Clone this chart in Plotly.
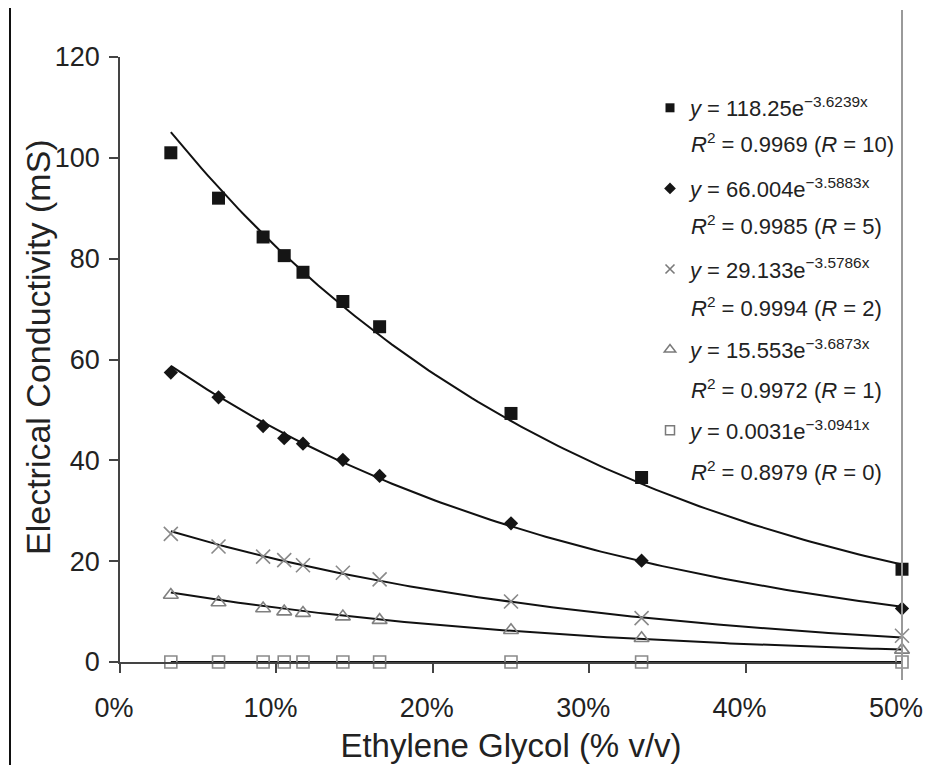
import numpy as np
import plotly.graph_objects as go

# ---------------- data ----------------
eg_fraction = [0.0325, 0.063, 0.0915, 0.105, 0.117, 0.1425, 0.166, 0.25, 0.3335, 0.50]

ec_R10 = [101.0, 92.0, 84.3, 80.6, 77.3, 71.5, 66.5, 49.3, 36.6, 18.4]
ec_R5 = [57.4, 52.5, 46.8, 44.4, 43.3, 40.1, 36.9, 27.5, 20.1, 10.6]
ec_R2 = [25.4, 22.9, 20.9, 20.2, 19.2, 17.7, 16.4, 12.0, 8.7, 5.2]
ec_R1 = [13.3, 11.8, 10.6, 10.0, 9.7, 9.0, 8.3, 6.3, 4.7, 2.4]
ec_R0 = [0.003, 0.003, 0.002, 0.002, 0.002, 0.002, 0.002, 0.001, 0.001, 0.001]

fit_a = [118.25, 66.004, 29.133, 15.553, 0.0031]
fit_b = [-3.6239, -3.5883, -3.5786, -3.6873, -3.0941]
fit_r2 = ["0.9969", "0.9985", "0.9994", "0.9972", "0.8979"]
fit_R = ["10", "5", "2", "1", "0"]
fit_a_txt = ["118.25", "66.004", "29.133", "15.553", "0.0031"]
fit_b_txt = ["3.6239", "3.5883", "3.5786", "3.6873", "3.0941"]

x_ticks = [0, 0.1, 0.2, 0.3, 0.4, 0.5]
y_ticks = [0, 20, 40, 60, 80, 100, 120]

FONT = "Liberation Sans"
series = [ec_R10, ec_R5, ec_R2, ec_R1, ec_R0]
styles = [
    dict(symbol="square", size=13, color="#151515", line=dict(width=0)),
    dict(symbol="diamond", size=11, color="#151515", line=dict(width=0)),
    dict(symbol="x-thin", size=14, color="#8a8a8a", line=dict(width=1.6, color="#8a8a8a")),
    dict(symbol="triangle-up-open", size=13, color="#808080", line=dict(width=1.6, color="#808080")),
    dict(symbol="square-open", size=12, color="#8a8a8a", line=dict(width=1.6, color="#8a8a8a")),
]
legend_styles = [
    dict(symbol="square", size=9, color="#151515", line=dict(width=0)),
    dict(symbol="diamond", size=9, color="#151515", line=dict(width=0)),
    dict(symbol="x-thin", size=9, color="#7a7a7a", line=dict(width=1.6, color="#7a7a7a")),
    dict(symbol="triangle-up-open", size=10, color="#7a7a7a", line=dict(width=1.5, color="#7a7a7a")),
    dict(symbol="square-open", size=9, color="#7a7a7a", line=dict(width=1.5, color="#7a7a7a")),
]

fig = go.Figure()

# trend lines (from the fitted equations shown on the chart)
xs = np.linspace(eg_fraction[0], eg_fraction[-1], 120)
for a, b in zip(fit_a, fit_b):
    fig.add_trace(go.Scatter(x=xs, y=a * np.exp(b * xs), mode="lines",
                             line=dict(color="#111111", width=2),
                             showlegend=False, hoverinfo="skip", cliponaxis=False))

# measured points
for ys, st in zip(series, styles):
    fig.add_trace(go.Scatter(x=eg_fraction, y=ys, mode="markers", marker=st,
                             showlegend=False, cliponaxis=False))

# legend entries
for i, st in enumerate(legend_styles):
    name = "<i>y</i> = %se<sup>\u2212%sx</sup>" % (fit_a_txt[i], fit_b_txt[i])
    fig.add_trace(go.Scatter(x=[None], y=[None], mode="markers", marker=st,
                             name=name, legendgroup="g%d" % i, showlegend=True))

# second line of each legend entry
annotations = []
for i in range(5):
    annotations.append(dict(
        xref="paper", yref="paper", x=(689 - 120) / 782, y=(662 - (143 + 82 * i)) / 605,
        xanchor="left", yanchor="middle", showarrow=False,
        text="<i>R</i><sup>2</sup> = %s (<i>R</i> = %s)" % (fit_r2[i], fit_R[i]),
        font=dict(family=FONT, size=22, color="#222222")))

# y-axis title
annotations.append(dict(
    xref="paper", yref="paper", x=(38 - 120) / 782, y=(662 - 347) / 605,
    xanchor="center", yanchor="middle", showarrow=False, textangle=-90,
    text="Electrical Conductivity (mS)",
    font=dict(family=FONT, size=34, color="#222222")))

axis_common = dict(
    showline=True, linecolor="#444444", linewidth=1.5,
    ticks="outside", ticklen=9, tickwidth=1.5, tickcolor="#444444",
    showgrid=False, zeroline=False, automargin=False,
    tickfont=dict(family=FONT, size=27, color="#222222"),
)

fig.update_layout(
    width=928, height=769,
    margin=dict(l=120, r=26, t=57, b=107),
    paper_bgcolor="white", plot_bgcolor="white",
    font=dict(family=FONT, color="#222222"),
    xaxis=dict(range=[0, 0.5], tickvals=x_ticks, tickformat=".0%",
               ticklabelstandoff=12, ticklabelshift=-6,
               title=dict(text="Ethylene Glycol (% v/v)", font=dict(family=FONT, size=33),
                          standoff=12),
               **axis_common),
    yaxis=dict(range=[0, 120], tickvals=y_ticks, ticklabelstandoff=4,
               **axis_common),
    legend=dict(x=(650 - 120) / 782, y=(662 - 87) / 605, xanchor="left", yanchor="top",
                font=dict(family=FONT, size=22, color="#222222"),
                traceorder="grouped", tracegroupgap=49,
                bgcolor="rgba(0,0,0,0)", itemwidth=30),
    annotations=annotations,
    shapes=[
        dict(type="line", xref="paper", yref="paper", x0=1, x1=1,
             y0=(662 - 680) / 605, y1=(662 - 10) / 605,
             line=dict(color="#9a9a9a", width=2)),
        dict(type="line", xref="paper", yref="paper",
             x0=(10 - 120) / 782, x1=(10 - 120) / 782,
             y0=(662 - 765) / 605, y1=(662 - 8) / 605,
             line=dict(color="#111111", width=2)),
    ],
)

fig.write_html("out.html")
